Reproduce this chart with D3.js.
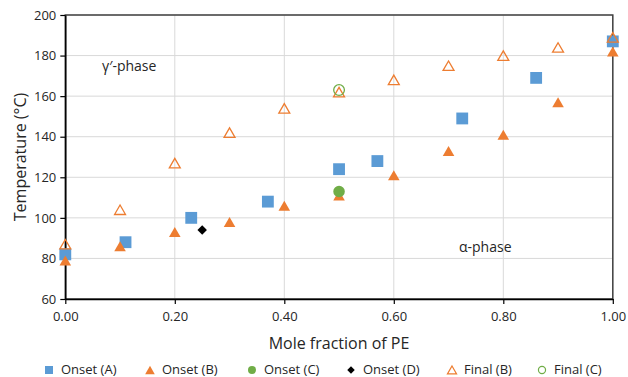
<!DOCTYPE html>
<html><head><meta charset="utf-8">
<script src="https://cdn.jsdelivr.net/npm/d3@7"></script>
<style>body{margin:0;background:#fff}svg{font-family:"Open Sans",sans-serif}</style>
</head><body><svg id="c" width="628" height="377"></svg>
<script>
const xTicks = [0,0.2,0.4,0.6,0.8,1.0];
const yTicks = [60,80,100,120,140,160,180,200];
const onsetA_x = [0,0.11,0.23,0.37,0.50,0.57,0.725,0.86,1.0];
const onsetA_y = [82,88,100,108,124,128,149,169,187];
const onsetB_x = [0,0.1,0.2,0.3,0.4,0.5,0.6,0.7,0.8,0.9,1.0];
const onsetB_y = [79,86,93,98,106,111,121,133,141,157,182];
const onsetC_x = [0.5];
const onsetC_y = [113];
const onsetD_x = [0.25];
const onsetD_y = [94];
const finalB_x = [0,0.1,0.2,0.3,0.4,0.5,0.6,0.7,0.8,0.9,1.0];
const finalB_y = [87,104,127,142,154,162,168,175,180,184,189];
const finalC_x = [0.5];
const finalC_y = [163];
const seriesNames = ["Onset (A)","Onset (B)","Onset (C)","Onset (D)","Final (B)","Final (C)"];

// triangle centred on its bounding box (like spreadsheet markers)
const triBox = {draw(ctx,size){
  const s = Math.sqrt(size*4/Math.sqrt(3)), h = s*Math.sqrt(3)/2;
  ctx.moveTo(0,-h/2); ctx.lineTo(s/2,h/2); ctx.lineTo(-s/2,h/2); ctx.closePath();
}};
// square rotated 45 degrees
const diamondSq = {draw(ctx,size){
  const r = Math.sqrt(size/2);
  ctx.moveTo(0,-r); ctx.lineTo(r,0); ctx.lineTo(0,r); ctx.lineTo(-r,0); ctx.closePath();
}};

const series = [
  {name:seriesNames[0], xs:onsetA_x, ys:onsetA_y, sym:d3.symbolSquare, size:140, fill:"#5B9BD5", stroke:"none"},
  {name:seriesNames[1], xs:onsetB_x, ys:onsetB_y, sym:triBox, size:58, fill:"#ED7D31", stroke:"none"},
  {name:seriesNames[2], xs:onsetC_x, ys:onsetC_y, sym:d3.symbolCircle, size:105, fill:"#70AD47", stroke:"none"},
  {name:seriesNames[3], xs:onsetD_x, ys:onsetD_y, sym:diamondSq, size:45, fill:"#000", stroke:"none"},
  {name:seriesNames[4], xs:finalB_x, ys:finalB_y, sym:triBox, size:52, fill:"none", stroke:"#ED7D31"},
  {name:seriesNames[5], xs:finalC_x, ys:finalC_y, sym:d3.symbolCircle, size:90, fill:"none", stroke:"#70AD47"}
];

const svg = d3.select("#c");
const L=65.3, R=612.8, T=15, B=299;
const x = d3.scaleLinear().domain([0,1]).range([L,R]);
const y = d3.scaleLinear().domain([60,200]).range([B,T]);

// grid
svg.append("g").selectAll("line").data(yTicks).join("line")
  .attr("x1",L).attr("x2",R).attr("y1",d=>y(d)).attr("y2",d=>y(d))
  .attr("stroke","#d9d9d9").attr("stroke-width",1);
svg.append("g").selectAll("line").data(xTicks).join("line")
  .attr("y1",T).attr("y2",B).attr("x1",d=>x(d)).attr("x2",d=>x(d))
  .attr("stroke","#d9d9d9").attr("stroke-width",1);

// frame
svg.append("rect").attr("x",L).attr("y",T).attr("width",R-L).attr("height",B-T)
  .attr("fill","none").attr("stroke","#404040").attr("stroke-width",1.5);

const xAxis = svg.append("g").attr("transform",`translate(0,${B})`)
  .call(d3.axisBottom(x).tickValues(xTicks).tickFormat(d3.format(".2f")).tickSizeOuter(0).tickSizeInner(5).tickPadding(8));
const yAxis = svg.append("g").attr("transform",`translate(${L},0)`)
  .call(d3.axisLeft(y).tickValues(yTicks).tickSizeOuter(0).tickSizeInner(5).tickPadding(4));
[xAxis,yAxis].forEach(a=>{
  a.select(".domain").attr("stroke","#000").attr("stroke-width",1.5);
  a.selectAll(".tick line").attr("stroke","#000").attr("stroke-width",1.2);
  a.selectAll("text").attr("font-family","Open Sans, sans-serif").attr("font-size",13).attr("fill","#262626");
});

// points
series.forEach(s=>{
  const g = svg.append("g");
  s.xs.forEach((xv,i)=>{
    g.append("path").attr("d",d3.symbol().type(s.sym).size(s.size)())
      .attr("transform",`translate(${x(xv)},${y(s.ys[i])})`)
      .attr("fill",s.fill).attr("stroke",s.stroke).attr("stroke-width",s.stroke==="none"?0:1.3);
  });
});

// annotations
svg.append("text").attr("x",102).attr("y",71).text("γ′-phase").attr("font-size",14).attr("fill","#262626");
svg.append("text").attr("x",459).attr("y",252).text("α-phase").attr("font-size",14).attr("fill","#262626");

// axis titles
svg.append("text").attr("x",339).attr("y",349).attr("text-anchor","middle").attr("font-size",16).attr("fill","#262626").text("Mole fraction of PE");
svg.append("text").attr("transform","translate(26,157) rotate(-90)").attr("text-anchor","middle").attr("font-size",16).attr("fill","#262626").text("Temperature (°C)");

// legend
const legX = [49,150,252,351,452,542];
const legSize = [64,40,50,28,36,40];
const leg = svg.append("g");
series.forEach((s,i)=>{
  leg.append("path").attr("d",d3.symbol().type(s.sym).size(legSize[i])())
    .attr("transform",`translate(${legX[i]},370)`)
    .attr("fill",s.fill).attr("stroke",s.stroke).attr("stroke-width",s.stroke==="none"?0:1.2);
  leg.append("text").attr("x",legX[i]+12).attr("y",374).attr("font-size",13).attr("fill","#262626").text(s.name);
});
</script></body></html>
